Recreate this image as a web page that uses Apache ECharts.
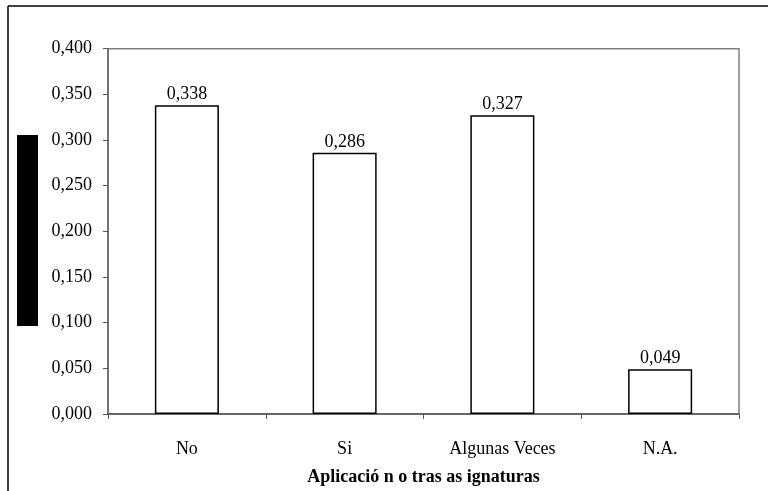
<!DOCTYPE html>
<html>
<head>
<meta charset="utf-8">
<script src="https://cdn.jsdelivr.net/npm/echarts@6/dist/echarts.min.js"></script>
<style>html,body{margin:0;padding:0;background:#fff;}#c{width:768px;height:491px;}</style>
</head>
<body>
<div id="c"></div>
<script>
const categories = ['No', 'Si', 'Algunas Veces', 'N.A.'];
const values = [0.338, 0.286, 0.327, 0.049];
const xTitle = 'Aplicació n o tras as ignaturas';

const chart = echarts.init(document.getElementById('c'), null, {renderer: 'canvas'});
const serif = 'Liberation Serif';
chart.setOption({
  animation: false,
  backgroundColor: '#fff',
  graphic: [
    {type: 'line', shape: {x1: 8, y1: 6, x2: 768, y2: 6}, style: {stroke: '#000', lineWidth: 1.5}},
    {type: 'line', shape: {x1: 8, y1: 6, x2: 8, y2: 491}, style: {stroke: '#000', lineWidth: 1.5}},
    {type: 'rect', shape: {x: 17, y: 135, width: 21, height: 191}, style: {fill: '#000'}}
  ],
  grid: {left: 108, right: 29, top: 48.7, bottom: 76, show: true, borderColor: '#808080', borderWidth: 1.5, backgroundColor: 'transparent'},
  xAxis: {
    type: 'category',
    data: categories,
    axisLine: {lineStyle: {color: '#555', width: 1.5}},
    axisTick: {show: true, length: 5, lineStyle: {color: '#555'}},
    axisLabel: {color: '#000', fontFamily: serif, fontSize: 18, margin: 26},
    name: xTitle,
    nameLocation: 'middle',
    nameGap: 54,
    nameTextStyle: {color: '#000', fontFamily: serif, fontSize: 18, fontWeight: 'bold'}
  },
  yAxis: {
    type: 'value',
    min: 0, max: 0.4, interval: 0.05,
    splitLine: {show: false},
    axisLine: {show: true, lineStyle: {color: '#666', width: 1.5}},
    axisTick: {show: true, length: 5, lineStyle: {color: '#555'}},
    axisLabel: {color: '#000', fontFamily: serif, fontSize: 18, margin: 16,
      formatter: v => v.toFixed(3).replace('.', ',')}
  },
  series: [{
    type: 'bar',
    data: values,
    barWidth: '40.6%',
    itemStyle: {color: '#fff', borderColor: '#000', borderWidth: 1.5},
    label: {show: true, position: 'top', distance: 2, color: '#000', fontFamily: serif, fontSize: 18,
      formatter: p => p.value.toFixed(3).replace('.', ',')}
  }]
});
</script>
</body>
</html>
